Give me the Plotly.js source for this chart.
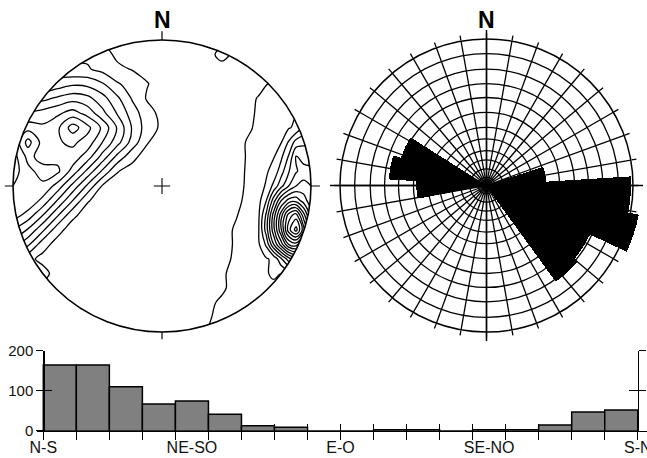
<!DOCTYPE html>
<html><head><meta charset="utf-8">
<script src="https://cdn.plot.ly/plotly-3.0.1.min.js"></script>
<style>html,body{margin:0;padding:0;background:#fff;}#chart{width:647px;height:458px;}</style>
</head><body><div id="chart"></div>
<script>
// ================= DATA =================
// Stereonet pole-density grid (equal-area net, unit circle)
const gridU = [-1.0,-0.9,-0.8,-0.7,-0.6,-0.5,-0.4,-0.3,-0.2,-0.1,0.0,0.1,0.2,0.3,0.4,0.5,0.6,0.65,0.7,0.75,0.8,0.85,0.9,0.95,1.0];
const gridV = [-1.0,-0.9,-0.8,-0.7,-0.6,-0.5,-0.4,-0.3,-0.2,-0.1,0.0,0.1,0.2,0.3,0.4,0.5,0.6,0.7,0.8,0.9,1.0];
const density = [
 [0.5,0.5,0.5,0.5,0.5,0.5,0.5,0.4,0.4,0.5,0.4,0.5,0.5,1.0,1.3,1.3,1.3,1.3,1.3,1.3,1.3,1.3,1.3,1.3,1.3],
 [0.6,0.6,0.5,0.5,0.4,0.5,0.4,0.5,0.4,0.5,0.4,0.4,0.5,0.8,1.4,1.4,1.4,1.4,1.4,1.4,1.4,1.4,1.4,1.4,1.4],
 [0.8,0.6,0.6,0.5,0.5,0.4,0.5,0.4,0.5,0.4,0.5,0.4,0.5,0.7,1.2,1.6,1.5,1.4,1.4,1.4,1.4,1.4,1.4,1.4,1.4],
 [1.0,0.7,0.5,0.5,0.4,0.5,0.4,0.5,0.4,0.5,0.4,0.5,0.4,0.5,0.8,1.45,1.8,1.8,1.8,1.7,1.6,1.6,1.6,1.6,1.6],
 [1.2,0.6,1.4,0.5,0.5,0.4,0.5,0.4,0.5,0.4,0.5,0.4,0.5,0.5,0.8,1.45,1.8,1.85,1.9,2.2,2.0,2.3,2.5,2.5,2.5],
 [2.5,1.3,0.7,0.5,0.4,0.5,0.4,0.5,0.4,0.5,0.4,0.5,0.4,0.5,0.6,1.25,1.85,1.9,1.9,2.2,3.8,5.5,6.5,6.0,5.0],
 [4.5,3.2,1.4,0.6,0.5,0.4,0.5,0.4,0.5,0.4,0.5,0.4,0.5,0.4,0.6,1.15,1.8,1.9,3.2,6.0,8.5,11.0,11.5,9.5,7.0],
 [6.0,4.9,3.2,1.35,0.5,0.4,0.5,0.4,0.5,0.4,0.5,0.4,0.5,0.4,0.6,1.15,1.8,2.0,4.5,7.7,10.9,14.6,16.4,13.5,9.5],
 [7.5,6.6,5.0,3.1,1.25,0.5,0.4,0.5,0.4,0.5,0.4,0.5,0.4,0.5,0.6,0.95,1.6,1.9,4.2,7.5,10.6,13.5,14.5,11.5,8.5],
 [7.8,7.8,6.7,4.9,3.0,1.1,0.5,0.4,0.5,0.4,0.5,0.4,0.5,0.4,0.5,0.8,1.35,1.7,3.0,5.6,8.0,9.4,9.6,8.5,7.4],
 [7.0,7.6,7.8,6.6,4.7,2.8,0.9,0.6,0.5,0.4,0.3,0.4,0.5,0.4,0.5,0.7,1.3,1.65,2.1,3.3,4.7,6.0,7.0,7.4,7.0],
 [6.5,7.7,8.4,8.2,6.6,4.7,2.8,1.05,0.6,0.5,0.4,0.5,0.4,0.5,0.5,0.7,1.25,1.6,1.9,2.3,3.6,4.9,5.9,6.4,6.4],
 [6.5,8.3,7.6,7.7,7.6,6.5,4.6,2.7,1.3,0.5,0.4,0.5,0.4,0.5,0.5,0.7,1.2,1.55,1.9,1.95,2.8,4.1,6.1,5.6,5.4],
 [7.0,9.4,7.6,7.9,8.2,7.6,6.0,4.4,2.6,1.1,0.3,0.4,0.5,0.4,0.5,0.7,1.2,1.5,1.85,1.9,1.95,3.1,4.4,4.8,4.8],
 [6.5,7.6,7.2,7.8,9.5,8.3,6.8,4.9,2.9,1.5,0.8,0.5,0.4,0.5,0.5,0.6,0.95,1.3,1.6,1.85,1.9,1.9,2.2,3.0,3.2],
 [5.5,6.0,6.4,6.8,7.4,6.6,5.3,3.9,2.5,1.4,0.7,0.4,0.5,0.4,0.5,0.5,0.85,1.2,1.5,1.8,1.85,1.9,1.95,1.95,1.95],
 [4.5,4.6,4.7,5.2,5.6,5.3,4.4,3.2,1.9,0.9,0.5,0.4,0.5,0.4,0.4,0.6,0.8,1.1,1.45,1.7,1.8,1.8,1.8,1.8,1.8],
 [3.0,3.2,3.0,3.4,3.8,3.7,3.1,2.1,1.6,1.05,0.6,0.5,0.4,0.5,0.5,0.5,0.4,0.6,0.95,1.2,1.3,1.3,1.3,1.3,1.3],
 [2.0,2.2,2.2,2.3,2.1,2.1,1.7,1.2,0.95,0.7,0.5,0.4,0.5,0.4,0.5,0.4,0.5,0.8,0.9,1.0,1.1,1.1,1.1,1.1,1.1],
 [1.9,1.9,1.9,1.9,1.9,1.8,1.4,0.8,0.5,0.4,0.5,0.4,0.5,0.5,1.4,0.6,0.5,0.6,0.8,0.9,1.0,1.0,1.0,1.0,1.0],
 [1.5,1.5,1.5,1.5,1.5,1.3,1.0,0.6,0.4,0.4,0.5,0.5,0.5,0.5,0.5,0.5,0.6,0.8,1.0,1.1,1.1,1.1,1.1,1.1,1.1]
];
const contourStart = 1, contourEnd = 16, contourStep = 1;

// Rose diagram (14.4-degree bins, bearing clockwise from N)
const roseBinWidth = 14.4;
const roseBinStart = [72, 86.4, 100.8, 115.2, 129.6, 259.2, 273.6, 288];
const roseLength   = [60, 145, 157, 115, 119, 70, 98, 90];
const roseOuter = 147;
const roseRings = [8.3, 16.7, 25.7, 35, 46.7, 58.3, 73.3, 88.3, 102.3, 116.7, 132.3];

// Histogram of strike directions (10-degree bins, 0-180)
const strikeBinStart = [0,10,20,30,40,50,60,70,80,90,100,110,120,130,140,150,160,170];
const strikeCounts   = [164,164,110,67,74,41,12.5,8.5,0,0,2.5,2.5,0,2.5,2.5,14,47,52];
const dirLabelDeg = [0,45,90,135,180];
const dirLabels   = ['N-S','NE-SO','E-O','SE-NO','S-N'];
const countTicks  = [0,100,200];

// ================= FIGURE =================
const FONT = 'Liberation Sans, Arial, Helvetica, sans-serif';
const binEdges = strikeBinStart.concat([strikeBinStart[strikeBinStart.length-1] + 10]);
const binCenters = strikeBinStart.map(s => s + 5);
const roseCenters = roseBinStart.map(s => s + roseBinWidth/2);

function maskPath(s) {
  let p = `M${-s},${-s}L${s},${-s}L${s},${s}L${-s},${s}Z`;
  const n = 180;
  for (let k = 0; k <= n; k++) {
    const a = -2*Math.PI*k/n;
    p += (k ? 'L' : 'M') + Math.cos(a).toFixed(4) + ',' + Math.sin(a).toFixed(4);
  }
  return p + 'Z';
}

const W = 647, H = 458;
const roseCx = 486.5, roseCy = 185.5, roseR = 146.5, roseR2 = 162;
const px = v => v / W, py = v => (H - v) / H;

const dummy = (xa, ya) => ({type:'scatter', x:[90], y:[0], xaxis:xa, yaxis:ya, mode:'markers',
  marker:{size:1, opacity:0}, hoverinfo:'skip', showlegend:false});

const traces = [
  {type:'contour', x:gridU, y:gridV, z:density, xaxis:'x', yaxis:'y',
   autocontour:false, contours:{start:contourStart, end:contourEnd, size:contourStep, coloring:'none'},
   line:{color:'#000', width:1.3, smoothing:1}, showscale:false, hoverinfo:'skip'},
  {type:'barpolar', subplot:'polar', r:roseLength, theta:roseCenters, width:roseBinWidth,
   marker:{color:'#000', line:{width:0}}, hoverinfo:'skip'},
  {type:'barpolar', subplot:'polar2', r:roseLength, theta:roseCenters, width:roseBinWidth,
   marker:{color:'#000', line:{width:0}}, hoverinfo:'skip'},
  {type:'bar', x:binCenters, y:strikeCounts, width:10, xaxis:'x2', yaxis:'y2',
   marker:{color:'#808080', line:{color:'#000', width:1.5}}, hoverinfo:'skip'},
  dummy('x3','y2'), dummy('x4','y2'), dummy('x2','y3'), dummy('x2','y4'), dummy('x2','y5')
];

const xr = [-1.91, 182.8];
const xdom = [37/W, 1];
const ydom = [py(430.7), py(350.7)];
const hideAx = {showline:false, showgrid:false, zeroline:false, showticklabels:false, ticks:''};

const layout = {
  width:W, height:H, margin:{l:0,r:0,t:0,b:0},
  paper_bgcolor:'#fff', plot_bgcolor:'rgba(0,0,0,0)', showlegend:false, bargap:0,
  font:{family:FONT, color:'#000'},
  xaxis:{domain:[1.1/W, 322.9/W], range:[-1.08,1.08], visible:false, fixedrange:true},
  yaxis:{domain:[py(353.9), py(10.8)], range:[-1.15,1.2], visible:false, fixedrange:true},
  xaxis2:{domain:xdom, range:xr, anchor:'y2', showline:true, linecolor:'#000', linewidth:1.3,
    tickmode:'array', tickvals:binEdges, ticks:'outside', ticklen:8, tickwidth:1.3, tickcolor:'#000',
    showticklabels:false, showgrid:false, zeroline:false},
  xaxis3:{domain:xdom, range:xr, anchor:'y2', overlaying:'x2', ...hideAx,
    tickmode:'array', tickvals:binEdges, ticks:'inside', ticklen:7, tickwidth:1.3, tickcolor:'#000'},
  xaxis4:{domain:xdom, range:xr, anchor:'y2', overlaying:'x2', showline:false, showgrid:false, zeroline:false,
    tickmode:'array', tickvals:dirLabelDeg, ticktext:dirLabels, ticks:'outside', ticklen:2,
    tickcolor:'rgba(0,0,0,0)', ticklabeloverflow:'allow', tickfont:{size:16, family:FONT, color:'#111'}},
  yaxis2:{domain:ydom, range:[0,200], anchor:'free', position:43.3/W, showline:true, linecolor:'#000', linewidth:1.3,
    tickmode:'array', tickvals:countTicks, ticks:'outside', ticklen:7, tickwidth:1.3, tickcolor:'#000',
    tickfont:{size:15, family:FONT, color:'#111'}, showgrid:false, zeroline:false},
  yaxis3:{domain:ydom, range:[0,200], anchor:'free', position:43.3/W, overlaying:'y2', ...hideAx,
    tickmode:'array', tickvals:[100,200], ticks:'inside', ticklen:8, tickwidth:1.3, tickcolor:'#000'},
  yaxis4:{domain:ydom, range:[0,200], anchor:'free', position:637.8/W, side:'right', overlaying:'y2',
    showline:true, linecolor:'#000', linewidth:1.3, showgrid:false, zeroline:false, showticklabels:false,
    tickmode:'array', tickvals:[100,200], ticks:'outside', ticklen:7, tickwidth:1.3, tickcolor:'#000'},
  yaxis5:{domain:ydom, range:[0,200], anchor:'free', position:637.8/W, side:'right', overlaying:'y2', ...hideAx,
    tickmode:'array', tickvals:[100,200], ticks:'inside', ticklen:9, tickwidth:1.3, tickcolor:'#000'},
  polar:{
    domain:{x:[px(roseCx-roseR), px(roseCx+roseR)], y:[py(roseCy+roseR), py(roseCy-roseR)]},
    bgcolor:'rgba(0,0,0,0)',
    angularaxis:{rotation:90, direction:'clockwise', tickmode:'linear', tick0:0, dtick:10,
      showgrid:true, gridcolor:'#000', gridwidth:1.3, ticks:'outside', ticklen:5, tickwidth:1.3, tickcolor:'#000',
      showticklabels:false, showline:true, linecolor:'#000', linewidth:1.5},
    radialaxis:{range:[0, roseOuter], tickmode:'array', tickvals:roseRings, showgrid:true, gridcolor:'#000', gridwidth:1.3,
      showticklabels:false, ticks:'', showline:false}
  },
  polar2:{
    domain:{x:[px(roseCx-roseR2), px(roseCx+roseR2)], y:[py(roseCy+roseR2), py(roseCy-roseR2)]},
    bgcolor:'rgba(0,0,0,0)',
    angularaxis:{rotation:90, direction:'clockwise', showgrid:false, ticks:'', showticklabels:false, showline:false},
    radialaxis:{range:[0, roseOuter*roseR2/roseR], visible:false, showgrid:false, showline:false, showticklabels:false, ticks:''}
  },
  shapes:[
    {type:'path', xref:'x', yref:'y', path:maskPath(1.07), fillcolor:'#fff', fillrule:'evenodd', line:{width:0}, layer:'above'},
    {type:'circle', xref:'x', yref:'y', x0:-1, x1:1, y0:-1, y1:1, line:{color:'#000', width:1.6}, layer:'above'},
    {type:'line', xref:'x', yref:'y', x0:-0.055, x1:0.055, y0:0, y1:0, line:{color:'#000', width:1.1}, layer:'above'},
    {type:'line', xref:'x', yref:'y', x0:0, x1:0, y0:-0.055, y1:0.055, line:{color:'#000', width:1.1}, layer:'above'},
    {type:'line', xref:'x', yref:'y', x0:-1.055, x1:-1, y0:0, y1:0, line:{color:'#000', width:1.2}, layer:'above'},
    {type:'line', xref:'x', yref:'y', x0:1, x1:1.06, y0:0, y1:0, line:{color:'#000', width:1.2}, layer:'above'},
    {type:'line', xref:'x', yref:'y', x0:0, x1:0, y0:1, y1:1.06, line:{color:'#000', width:1.2}, layer:'above'},
    {type:'line', xref:'x', yref:'y', x0:0, x1:0, y0:-1, y1:-1.05, line:{color:'#000', width:1.2}, layer:'above'},
    {type:'line', xref:'paper', yref:'paper', x0:px(330), x1:px(643), y0:py(roseCy), y1:py(roseCy), line:{color:'#000', width:1.5}, layer:'above'},
    {type:'line', xref:'paper', yref:'paper', x0:px(roseCx), x1:px(roseCx), y0:py(30), y1:py(341), line:{color:'#000', width:1.5}, layer:'above'}
  ],
  annotations:[
    {xref:'x', yref:'y', x:0, y:1.137, text:'<b>N</b>', showarrow:false, xanchor:'center', yanchor:'middle',
     font:{size:23, family:FONT, color:'#000'}},
    {xref:'paper', yref:'paper', x:px(roseCx), y:py(20), text:'<b>N</b>', showarrow:false, xanchor:'center', yanchor:'middle',
     font:{size:23, family:FONT, color:'#000'}}
  ]
};

Plotly.newPlot('chart', traces, layout, {staticPlot:true, displayModeBar:false});
</script>
</body></html>
